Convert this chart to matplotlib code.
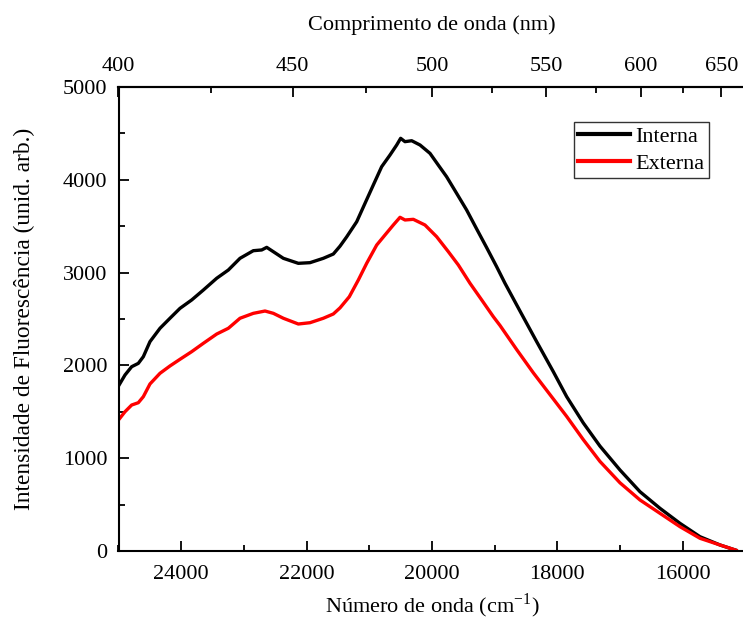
import numpy as np
import matplotlib
matplotlib.use("Agg")
from matplotlib import pyplot as plt
from matplotlib.ticker import MultipleLocator

plt.rcParams['font.family'] = ['Liberation Serif', 'DejaVu Serif']
plt.rcParams['mathtext.fontset'] = 'stix'

# Wavenumber (cm-1) and intensity
wn_interna = [25000, 24896, 24790, 24684, 24604, 24498, 24338, 24179, 24019, 23833,
              23647, 23434, 23248, 23062, 22850, 22716, 22636, 22530, 22371, 22132,
              21946, 21733, 21574, 21467, 21361, 21201, 21068, 20936, 20803, 20670,
              20563, 20500, 20431, 20324, 20191, 20032, 19900, 19767, 19608, 19448,
              19289, 19129, 18970, 18836, 18596, 18330, 18065, 17852, 17587, 17321,
              17002, 16683, 16364, 16045, 15726, 15407, 15150]
interna = [1778, 1897, 1986, 2022, 2094, 2256, 2400, 2508, 2615, 2705,
           2812, 2939, 3028, 3154, 3236, 3244, 3272, 3225, 3154, 3100,
           3107, 3154, 3200, 3285, 3385, 3548, 3747, 3944, 4141, 4267,
           4375, 4447, 4411, 4421, 4375, 4285, 4159, 4033, 3855, 3675,
           3472, 3270, 3065, 2885, 2585, 2255, 1932, 1663, 1380, 1130,
           873, 639, 460, 298, 154, 65, 8]

wn_externa = [25000, 24896, 24790, 24684, 24604, 24498, 24338, 24179, 24019, 23833,
              23647, 23434, 23248, 23062, 22850, 22663, 22530, 22371, 22132, 21946,
              21733, 21574, 21467, 21319, 21175, 21042, 20882, 20750, 20617, 20510,
              20431, 20298, 20112, 19926, 19739, 19580, 19394, 19207, 19022, 18915,
              18649, 18384, 18118, 17852, 17587, 17321, 17002, 16683, 16364, 16045,
              15726, 15407, 15150]
externa = [1412, 1501, 1573, 1598, 1663, 1800, 1915, 1994, 2066, 2148,
           2238, 2338, 2400, 2508, 2561, 2586, 2561, 2508, 2446, 2460,
           2508, 2554, 2620, 2740, 2920, 3100, 3297, 3405, 3513, 3596,
           3567, 3574, 3513, 3387, 3225, 3082, 2885, 2705, 2525, 2430,
           2170, 1920, 1685, 1450, 1200, 965, 735, 550, 406, 262,
           137, 65, 8]


def wn_to_nm(x):
    x = np.asarray(x, dtype=float)
    return 1e7 / np.where(np.abs(x) < 1, 1, x)


fig = plt.figure(figsize=(7.43, 6.30), dpi=100)
ax = fig.add_axes([118.5 / 743, 79 / 630, 627 / 743, 464 / 630])

ax.plot(wn_interna, interna, color="black", lw=2.4, label="Interna")
ax.plot(wn_externa, externa, color="red", lw=2.4, label="Externa")

ax.set_xlim(25000, 15000)
ax.set_ylim(0, 5000)
ax.xaxis.set_major_locator(MultipleLocator(2000))
ax.xaxis.set_minor_locator(MultipleLocator(1000))
ax.yaxis.set_major_locator(MultipleLocator(1000))
ax.yaxis.set_minor_locator(MultipleLocator(500))
ax.tick_params(which="both", direction="in", width=1.3, labelsize=16, top=False, right=False)
ax.tick_params(which="major", length=7)
ax.tick_params(which="minor", length=4)
ax.tick_params(axis="x", which="major", pad=10)
ax.tick_params(axis="y", which="major", pad=8)
for s in ax.spines.values():
    s.set_linewidth(1.5)

ax.set_xlabel("Número de onda (cm$^{\\mathregular{-1}}$)", fontsize=16, labelpad=6)
ax.set_ylabel("Intensidade de Fluorescência (unid. arb.)", fontsize=16.8, labelpad=20)

top = ax.secondary_xaxis("top", functions=(wn_to_nm, wn_to_nm))
top.set_xticks([400, 450, 500, 550, 600, 650])
top.set_xticks([425, 475, 525, 575, 625], minor=True)
top.tick_params(which="both", direction="in", width=1.3, labelsize=16)
top.tick_params(which="major", length=7, pad=8)
top.tick_params(which="minor", length=4)
top.spines["top"].set_linewidth(1.5)
top.set_xlabel("Comprimento de onda (nm)", fontsize=16, labelpad=19)

leg = ax.legend(loc="upper left", bbox_to_anchor=(0.7265, 0.925), fontsize=16,
                frameon=True, fancybox=False, handlelength=2.3, borderpad=0.2,
                labelspacing=0.3, handletextpad=0.25, borderaxespad=0)
leg.get_frame().set_edgecolor("black")
leg.get_frame().set_linewidth(1.0)
for line in leg.get_lines():
    line.set_linewidth(3)

fig.savefig("out.png", dpi=100)
